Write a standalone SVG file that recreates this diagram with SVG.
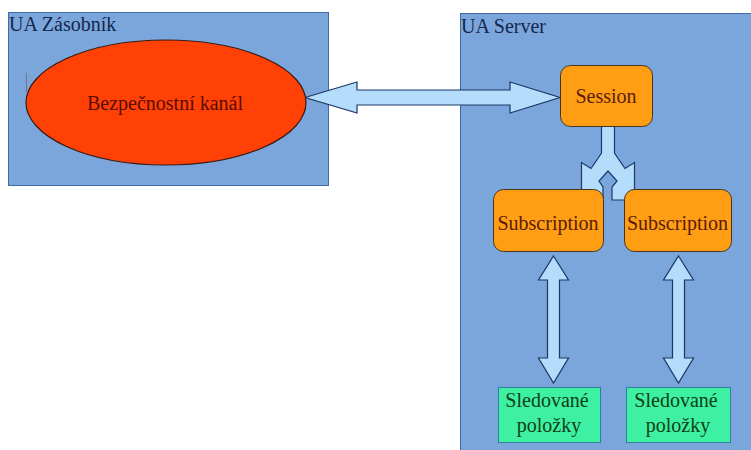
<svg xmlns="http://www.w3.org/2000/svg" width="751" height="450" viewBox="0 0 751 450">
  <style>
    .container { fill: #7ba6dc; stroke: #3f6aa8; stroke-width: 1; }
    .label { font-size: 20px; fill: #14264d; }
    .node-text { font-size: 20px; text-anchor: middle; }
    .orange { fill: #ff9e12; stroke: #4a3320; stroke-width: 1; }
    .orange-text { fill: #5a1c08; }
    .green { fill: #3ef0a2; stroke: #2e7fa0; stroke-width: 1; }
    .green-text { fill: #0f3f14; }
    .arrow { fill: #b4dcfb; stroke: #1d3766; stroke-width: 1.2; stroke-linejoin: miter; }
  </style>

  <rect x="0" y="0" width="751" height="450" fill="#ffffff"/>

  <g font-family="'Liberation Serif', 'DejaVu Serif', 'Noto Serif', serif">
  <!-- containers -->
  <g id="ua-zasobnik">
    <rect class="container" x="8.5" y="12.5" width="320" height="173"/>
    <text class="label" x="9" y="31">UA Zásobník</text>
  </g>
  <g id="ua-server">
    <rect class="container" x="460.5" y="13.5" width="300" height="450"/>
    <text class="label" x="461" y="33">UA Server</text>
  </g>

  <!-- connectors -->
  <g id="connectors">
    <polygon class="arrow" points="305,97.5 357,82 357,90 510,90 510,82 560,97.5 510,113 510,105 357,105 357,113"/>
    <polygon class="arrow" points="601.5,126 614.5,126 614.5,153 625,168.5 634.5,162.5 634.5,200 612,200 612,187 617,181 608,171 599,181 603,187 603,200 581.5,200 581.5,162.5 591,168.5 601.5,153"/>
    <polygon class="arrow" points="553.5,256 568.5,280 559.5,280 559.5,358 568.5,358 553.5,383 538.5,358 547.5,358 547.5,280 538.5,280"/>
    <polygon class="arrow" points="678.5,256 693.5,280 684.5,280 684.5,358 693.5,358 678.5,383 663.5,358 672.5,358 672.5,280 663.5,280"/>
  </g>

  <!-- secure channel -->
  <g id="bezpecnostni-kanal">
    <line x1="26.5" y1="73" x2="26.5" y2="92" stroke="#6d7a8a" stroke-width="1"/>
    <ellipse cx="166" cy="102.5" rx="140" ry="62.5" fill="#ff4106" stroke="#3a1a12" stroke-width="1.2"/>
    <text class="node-text" x="165" y="110" font-size="21" fill="#5a0c04">Bezpečnostní kanál</text>
  </g>

  <g id="session">
    <rect class="orange" x="560.5" y="65.5" width="92" height="61" rx="10"/>
    <text class="node-text orange-text" x="606" y="103">Session</text>
  </g>

  <g id="subscription-1">
    <rect class="orange" x="493.5" y="189.5" width="110" height="62" rx="10"/>
    <text class="node-text orange-text" x="548" y="230" font-size="21">Subscription</text>
  </g>
  <g id="subscription-2">
    <rect class="orange" x="624.5" y="189.5" width="107" height="62" rx="10"/>
    <text class="node-text orange-text" x="677.5" y="230" font-size="21">Subscription</text>
  </g>

  <g id="sledovane-polozky-1">
    <rect class="green" x="498.5" y="387.5" width="102" height="55"/>
    <text class="node-text green-text" x="547" y="407">Sledované</text>
    <text class="node-text green-text" x="549" y="432">položky</text>
  </g>
  <g id="sledovane-polozky-2">
    <rect class="green" x="626.5" y="387.5" width="104" height="55"/>
    <text class="node-text green-text" x="676" y="407">Sledované</text>
    <text class="node-text green-text" x="678" y="432">položky</text>
  </g>
  </g>
</svg>
